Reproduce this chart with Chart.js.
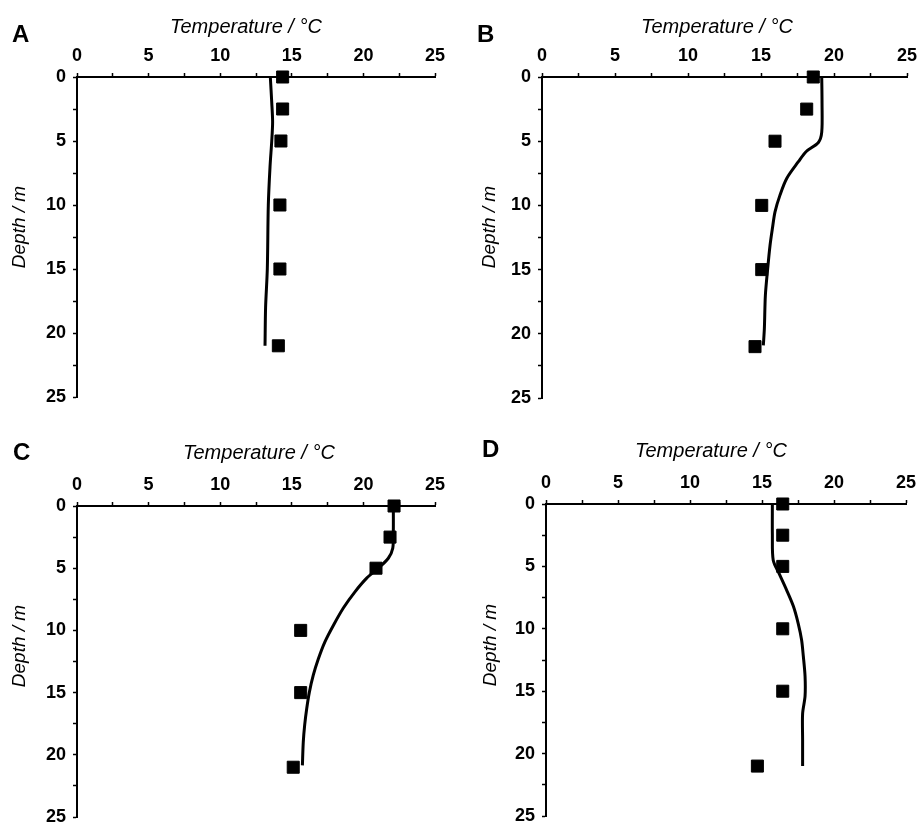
<!DOCTYPE html>
<html>
<head>
<meta charset="utf-8">
<title>Temperature profiles</title>
<script src="https://cdn.jsdelivr.net/npm/chart.js@4.4.1/dist/chart.umd.min.js"></script>
<style>
  html, body { margin: 0; padding: 0; background: #fff; }
  #fig { position: relative; width: 918px; height: 827px; overflow: hidden; }
  #fig canvas { position: absolute; }
</style>
</head>
<body>
<div id="fig">
  <canvas id="panelA"></canvas>
  <canvas id="panelB"></canvas>
  <canvas id="panelC"></canvas>
  <canvas id="panelD"></canvas>
</div>
<script>
// sampling depths (m) of the measured profiles
const obsDepth = [0, 2.5, 5, 10, 15, 21];

// measured temperature (°C) at each sampling depth
const obsA = [14.36, 14.36, 14.24, 14.17, 14.17, 14.06];
const obsB = [18.58, 18.13, 15.96, 15.05, 15.05, 14.59];
const obsC = [22.14, 21.86, 20.88, 15.62, 15.62, 15.1];
const obsD = [16.44, 16.44, 16.44, 16.44, 16.44, 14.68];

// simulated profiles: depth (m) and temperature (°C)
const modelDepthA = [0, 2, 3.5, 5, 7, 10, 15, 18, 21];
const modelTempA  = [13.5, 13.6, 13.66, 13.6, 13.48, 13.36, 13.29, 13.17, 13.13];
const modelDepthB = [0, 2, 4.3, 5.1, 5.8, 6.6, 7.9, 9.2, 10.5, 11.8, 13.1, 14.9, 17, 19.6, 20.9];
const modelTempB  = [19.16, 19.18, 19.16, 18.93, 18.1, 17.56, 16.76, 16.3, 15.96, 15.78, 15.62, 15.46, 15.3, 15.23, 15.16];
const modelDepthC = [0, 2, 3.4, 4.2, 5.0, 5.8, 6.9, 8.2, 9.6, 10.9, 12.3, 13.6, 15.0, 16.3, 17.6, 19.0, 20.85];
const modelTempC  = [22.09, 22.09, 22.05, 21.74, 21.04, 20.23, 19.41, 18.6, 17.9, 17.32, 16.85, 16.5, 16.22, 16.04, 15.9, 15.8, 15.74];
const modelDepthD = [0, 2.5, 4.5, 5.6, 6.9, 8.2, 9.6, 10.9, 12.2, 13.8, 15.4, 16.8, 18.9, 21.0];
const modelTempD  = [15.72, 15.72, 15.78, 16.2, 16.71, 17.18, 17.52, 17.75, 17.87, 17.99, 17.99, 17.82, 17.82, 17.82];

// axis ranges and labels
const tempMin = 0, tempMax = 25, tempStep = 2.5;
const depthMin = 0, depthMax = 25, depthStep = 2.5;
const labelEvery = 5;
const xTitleText = 'Temperature / °C';
const yTitleText = 'Depth / m';

const FONT = "'Liberation Sans', Arial, Helvetica, sans-serif";

// box = canvas placement, area = plot rectangle inside the canvas
const panels = [
  { id: 'panelA', letter: 'A', obs: obsA, mD: modelDepthA, mT: modelTempA,
    box: { left: 0, top: 0, w: 459, h: 410 }, area: { left: 77, top: 77, right: 435, bottom: 397 },
    letterPos: [12, 42], xTitlePos: [246, 33], yTitlePos: [25, 227] },
  { id: 'panelB', letter: 'B', obs: obsB, mD: modelDepthB, mT: modelTempB,
    box: { left: 459, top: 0, w: 459, h: 410 }, area: { left: 83, top: 77, right: 448, bottom: 398 },
    letterPos: [18, 42], xTitlePos: [258, 33], yTitlePos: [36, 227] },
  { id: 'panelC', letter: 'C', obs: obsC, mD: modelDepthC, mT: modelTempC,
    box: { left: 0, top: 410, w: 459, h: 417 }, area: { left: 77, top: 96, right: 435, bottom: 407 },
    letterPos: [13, 50], xTitlePos: [259, 49], yTitlePos: [25, 236] },
  { id: 'panelD', letter: 'D', obs: obsD, mD: modelDepthD, mT: modelTempD,
    box: { left: 459, top: 410, w: 459, h: 417 }, area: { left: 87, top: 94, right: 447, bottom: 406 },
    letterPos: [23, 47], xTitlePos: [252, 47], yTitlePos: [37, 235] },
];

// panel letter and axis titles, placed per panel
const panelText = {
  id: 'panelText',
  afterDraw(chart, args, opts) {
    const ctx = chart.ctx;
    ctx.save();
    ctx.fillStyle = '#000';
    ctx.textBaseline = 'alphabetic';

    ctx.font = `bold 24px ${FONT}`;
    ctx.textAlign = 'left';
    ctx.fillText(opts.letter, opts.letterPos[0], opts.letterPos[1]);

    ctx.font = `italic 20px ${FONT}`;
    ctx.textAlign = 'center';
    ctx.fillText(xTitleText, opts.xTitlePos[0], opts.xTitlePos[1]);

    ctx.translate(opts.yTitlePos[0], opts.yTitlePos[1]);
    ctx.rotate(-Math.PI / 2);
    ctx.font = `italic 19px ${FONT}`;
    ctx.fillText(yTitleText, 0, 0);
    ctx.restore();
  }
};

const tickFont = { family: FONT, size: 18, weight: 'bold' };
const everyFifth = (v) => (Math.abs(v % labelEvery) < 1e-6 ? v : '');

panels.forEach((p) => {
  const canvas = document.getElementById(p.id);
  canvas.width = p.box.w;
  canvas.height = p.box.h;
  canvas.style.left = p.box.left + 'px';
  canvas.style.top = p.box.top + 'px';

  new Chart(canvas, {
    type: 'scatter',
    data: {
      datasets: [
        {
          label: 'model',
          data: p.mD.map((d, i) => ({ x: p.mT[i], y: d })),
          showLine: true,
          borderColor: '#000',
          borderWidth: 3,
          tension: 0.3,
          pointRadius: 0,
          clip: false,
        },
        {
          label: 'measured',
          data: obsDepth.map((d, i) => ({ x: p.obs[i], y: d })),
          pointStyle: 'rect',
          pointRadius: 8.5,
          pointBackgroundColor: '#000',
          pointBorderColor: '#000',
          pointBorderWidth: 1,
          clip: false,
        },
      ],
    },
    options: {
      responsive: false,
      animation: false,
      events: [],
      layout: { padding: { left: 0, top: 0, right: p.box.w - p.area.right, bottom: p.box.h - p.area.bottom } },
      plugins: {
        legend: { display: false },
        tooltip: { enabled: false },
        panelText: { letter: p.letter, letterPos: p.letterPos, xTitlePos: p.xTitlePos, yTitlePos: p.yTitlePos },
      },
      scales: {
        x: {
          type: 'linear',
          position: 'top',
          min: tempMin,
          max: tempMax,
          // fixed axis band; end labels may overhang the padding
          afterFit: (s) => { s.height = p.area.top; s.paddingLeft = 0; s.paddingRight = 0; },
          ticks: { stepSize: tempStep, autoSkip: false, maxRotation: 0, color: '#000', font: tickFont, padding: 6, callback: everyFifth },
          grid: { drawOnChartArea: false, tickLength: 4, tickWidth: 1.5, color: '#000' },
          border: { display: true, color: '#000', width: 2 },
        },
        y: {
          type: 'linear',
          reverse: true,
          min: depthMin,
          max: depthMax,
          afterFit: (s) => { s.width = p.area.left; s.paddingTop = 0; s.paddingBottom = 0; },
          ticks: { stepSize: depthStep, autoSkip: false, color: '#000', font: tickFont, padding: 7, callback: everyFifth },
          grid: { drawOnChartArea: false, tickLength: 4, tickWidth: 1.5, color: '#000' },
          border: { display: true, color: '#000', width: 2 },
        },
      },
    },
    plugins: [panelText],
  });
});
</script>
</body>
</html>
